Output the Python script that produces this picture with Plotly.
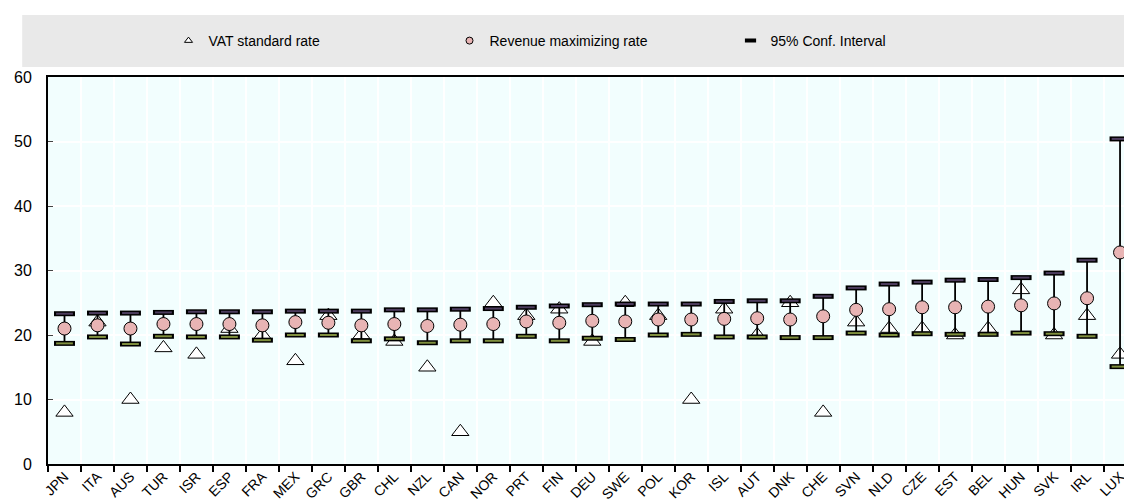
import plotly.graph_objects as go

countries = ["JPN", "ITA", "AUS", "TUR", "ISR", "ESP", "FRA", "MEX", "GRC", "GBR", "CHL",
             "NZL", "CAN", "NOR", "PRT", "FIN", "DEU", "SWE", "POL", "KOR", "ISL", "AUT",
             "DNK", "CHE", "SVN", "NLD", "CZE", "EST", "BEL", "HUN", "SVK", "IRL", "LUX"]

vat_rate = [8, 22, 10, 18, 17, 21, 20, 16, 23, 20, 19,
            15, 5, 25, 23, 24, 19, 25, 23, 10, 24, 20,
            25, 8, 22, 21, 21, 20, 21, 27, 20, 23, 17]

rev_max = [21.0, 21.5, 21.0, 21.7, 21.7, 21.7, 21.5, 22.0, 21.9, 21.5, 21.7,
           21.4, 21.6, 21.7, 22.1, 21.9, 22.2, 22.1, 22.4, 22.4, 22.5, 22.6,
           22.4, 22.9, 23.9, 24.0, 24.3, 24.3, 24.4, 24.6, 24.9, 25.7, 32.8]

ci_upper = [23.3, 23.4, 23.4, 23.5, 23.6, 23.6, 23.6, 23.7, 23.7, 23.7, 23.9,
            23.9, 24.0, 24.1, 24.3, 24.5, 24.7, 24.8, 24.8, 24.8, 25.2, 25.3,
            25.3, 26.0, 27.3, 27.9, 28.2, 28.5, 28.6, 28.9, 29.6, 31.6, 50.4]

ci_lower = [18.7, 19.7, 18.6, 19.8, 19.7, 19.7, 19.2, 20.0, 20.0, 19.1, 19.4,
            18.8, 19.1, 19.1, 19.8, 19.1, 19.5, 19.3, 20.0, 20.1, 19.7, 19.7,
            19.6, 19.6, 20.3, 20.0, 20.2, 20.1, 20.1, 20.3, 20.2, 19.8, 15.1]

FONT = "Liberation Sans Narrow, Arial Narrow, Liberation Sans, Arial"

fig = go.Figure()

# VAT rate triangles
fig.add_trace(go.Scatter(
    x=countries, y=vat_rate, mode="markers", showlegend=False,
    marker=dict(symbol="triangle-up", size=15, color="white",
                line=dict(color="black", width=1))))

# whiskers
fig.add_trace(go.Scatter(
    x=countries, y=ci_lower, mode="markers", showlegend=False,
    marker=dict(size=0.1, color="rgba(0,0,0,0)"),
    error_y=dict(type="data", symmetric=False,
                 array=[u - l for u, l in zip(ci_upper, ci_lower)],
                 arrayminus=[0] * len(ci_lower),
                 color="black", thickness=1.8, width=0)))

# caps: black outline, coloured core
for vals, core in [(ci_upper, "#4d3d5e"), (ci_lower, "#7f8f3e")]:
    fig.add_trace(go.Scatter(
        x=countries, y=vals, mode="markers", showlegend=False,
        marker=dict(symbol="line-ew", size=15, line=dict(color="black", width=5))))
    fig.add_trace(go.Scatter(
        x=countries, y=vals, mode="markers", showlegend=False,
        marker=dict(symbol="line-ew", size=12, line=dict(color=core, width=2))))

# revenue maximizing rate
fig.add_trace(go.Scatter(
    x=countries, y=rev_max, mode="markers", showlegend=False,
    marker=dict(symbol="circle", size=13, color="#e8b4b4",
                line=dict(color="black", width=1))))

# legend entries
fig.add_trace(go.Scatter(x=[None], y=[None], mode="markers", name="VAT standard rate",
                         marker=dict(symbol="triangle-up", size=7, color="white",
                                     line=dict(color="black", width=1))))
fig.add_trace(go.Scatter(x=[None], y=[None], mode="markers", name="Revenue maximizing rate",
                         marker=dict(symbol="circle", size=7, color="#e8b4b4",
                                     line=dict(color="black", width=1))))
fig.add_trace(go.Scatter(x=[None], y=[None], mode="markers", name="95% Conf. Interval",
                         marker=dict(symbol="line-ew", size=8,
                                     line=dict(color="black", width=4))))

fig.add_shape(type="rect", xref="paper", yref="paper",
              x0=-0.024, x1=1.01, y0=1.026, y1=1.16,
              fillcolor="#e9e9e9", line=dict(width=0), layer="below")

fig.update_layout(
    width=1124, height=501,
    margin=dict(l=48, r=0, t=77, b=37, autoexpand=False),
    paper_bgcolor="white", plot_bgcolor="#f2fefe",
    font=dict(family=FONT, size=13, color="black"),
    legend=dict(orientation="h", x=0.112, y=1.093, xanchor="left", yanchor="middle",
                bgcolor="rgba(0,0,0,0)", font=dict(size=14), entrywidth=236,
                itemwidth=30),
)
fig.update_xaxes(
    type="category", range=[-0.5, 32.12], tickson="boundaries",
    ticks="outside", ticklen=6, tickcolor="black", tickwidth=2,
    tickangle=-45, tickfont=dict(size=14), ticklabelstandoff=-3,
    showgrid=True, gridcolor="white", gridwidth=2,
    showline=True, linecolor="black", linewidth=2, mirror=True,
    automargin=False)
fig.update_yaxes(
    range=[0, 60], dtick=10, ticks="inside", ticklen=5, tickcolor="#444",
    tickfont=dict(size=16), ticklabelstandoff=11,
    showgrid=True, gridcolor="white", gridwidth=2,
    showline=True, linecolor="black", linewidth=2, zeroline=False,
    automargin=False)

# no page margin / scrollbars so the figure fills the window
fig.write_html("out.html", config={"displayModeBar": False},
               post_script="document.body.style.margin='0';"
                           "document.body.style.overflow='hidden';")
